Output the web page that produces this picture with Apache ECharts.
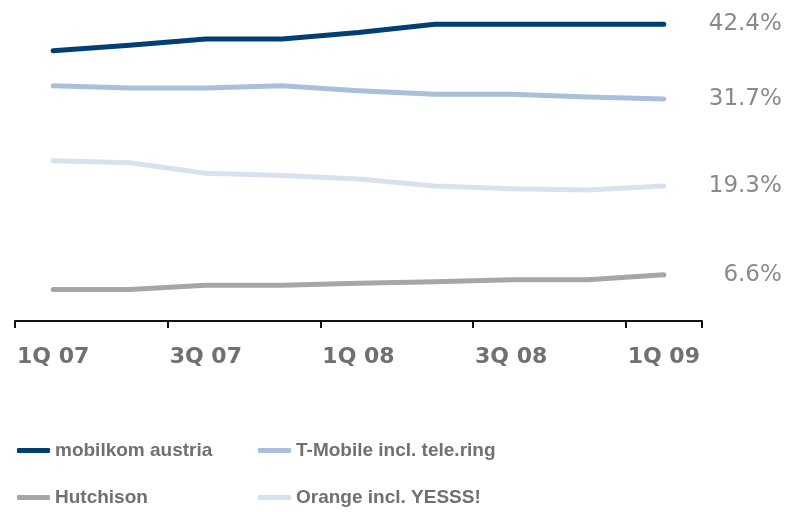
<!DOCTYPE html>
<html>
<head>
<meta charset="utf-8">
<script src="https://cdn.jsdelivr.net/npm/echarts@6/dist/echarts.min.js"></script>
<style>
  html, body { margin: 0; padding: 0; background: #fff; }
  #chart { width: 789px; height: 512px; }
</style>
</head>
<body>
<div id="chart"></div>
<script>
// quarters on the x axis
var quarters = ["1Q 07", "2Q 07", "3Q 07", "4Q 07", "1Q 08", "2Q 08", "3Q 08", "4Q 08", "1Q 09"];
// market share in %
var mobilkom = [38.6, 39.4, 40.3, 40.3, 41.2, 42.4, 42.4, 42.4, 42.4];
var tmobile = [33.6, 33.3, 33.3, 33.6, 32.9, 32.4, 32.4, 32.0, 31.7];
var orange = [22.9, 22.6, 21.1, 20.8, 20.3, 19.3, 18.9, 18.7, 19.3];
var hutchison = [4.5, 4.5, 5.1, 5.1, 5.4, 5.6, 5.9, 5.9, 6.6];

var myChart = echarts.init(document.getElementById("chart"));

function makeLine(name, data, color) {
  return {
    name: name,
    type: "line",
    data: data,
    symbol: "none",
    lineStyle: { color: color, width: 5, cap: "round", join: "round" },
    itemStyle: { color: color },
    endLabel: {
      show: true,
      align: "right",
      distance: 118,
      formatter: function (p) {
        return p.value.toFixed(1) + "%";
      },
      color: "#8a8a8a",
      fontSize: 23,
      fontFamily: "DejaVu Sans",
    },
  };
}

var legendText = {
  color: "#707070",
  fontSize: 19,
  fontWeight: "bold",
  fontFamily: "Liberation Sans",
};

var option = {
  animation: false,
  grid: {
    left: 15,
    right: 87,
    top: 6,
    bottom: 191,
  },
  legend: [
    {
      orient: "vertical",
      left: 17,
      top: 441,
      padding: 0,
      itemGap: 28,
      itemWidth: 33,
      itemHeight: 5,
      icon: "roundRect",
      textStyle: legendText,
      data: ["mobilkom austria", "Hutchison"],
    },
    {
      orient: "vertical",
      left: 258,
      top: 441,
      padding: 0,
      itemGap: 28,
      itemWidth: 33,
      itemHeight: 5,
      icon: "roundRect",
      textStyle: legendText,
      data: ["T-Mobile incl. tele.ring", "Orange incl. YESSS!"],
    },
  ],
  xAxis: {
    type: "category",
    data: quarters,
    boundaryGap: true,
    axisLine: { show: true, lineStyle: { color: "#111", width: 2 } },
    axisTick: {
      show: true,
      interval: 1,
      length: 7,
      lineStyle: { color: "#111", width: 2 },
    },
    axisLabel: {
      interval: 1,
      margin: 25,
      color: "#707070",
      fontSize: 22,
      fontWeight: "bold",
      fontFamily: "DejaVu Sans",
    },
  },
  yAxis: {
    type: "value",
    min: 0,
    max: 45,
    show: false,
  },
  series: [
    makeLine("mobilkom austria", mobilkom, "#003f72"),
    makeLine("T-Mobile incl. tele.ring", tmobile, "#a9c0dc"),
    makeLine("Hutchison", hutchison, "#a6a6a7"),
    makeLine("Orange incl. YESSS!", orange, "#d8e2ef"),
  ],
};
myChart.setOption(option);
window.onresize = myChart.resize;
</script>
</body>
</html>
